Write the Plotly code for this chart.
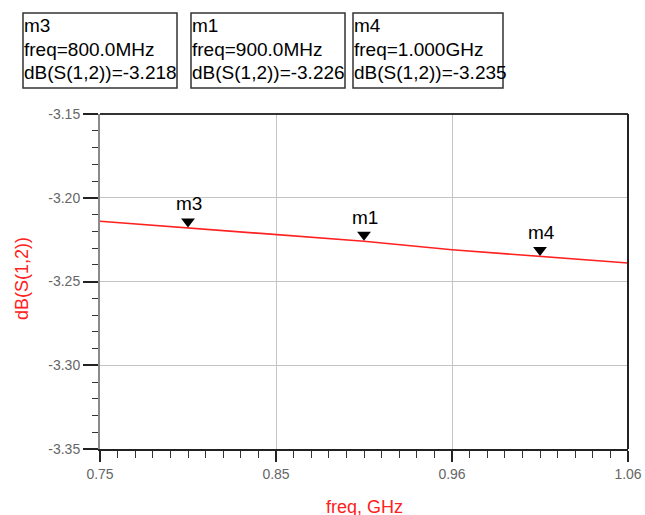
import plotly.graph_objects as go

# ---- data ----
freq_ghz = [0.75, 0.80, 0.85, 0.90, 0.95, 1.00, 1.05]
s12_db = [-3.214, -3.218, -3.222, -3.226, -3.231, -3.235, -3.239]

marker_names = ["m3", "m1", "m4"]
marker_freq = [0.80, 0.90, 1.00]
marker_db = [-3.218, -3.226, -3.235]
marker_freq_text = ["800.0MHz", "900.0MHz", "1.000GHz"]

x_tickvals = [0.75, 0.85, 0.95, 1.05]
x_ticktext = ["0.75", "0.85", "0.96", "1.06"]
y_tickvals = [-3.35, -3.30, -3.25, -3.20, -3.15]
y_ticktext = ["-3.35", "-3.30", "-3.25", "-3.20", "-3.15"]

# ---- layout geometry (page pixels) ----
W, H = 645, 515
L, R, T, B = 100, 628, 114, 449
PW, PH = R - L, B - T
YR = (-3.35, -3.15)


def px_x(px):
    return (px - L) / PW


def px_y(py):
    return (B - py) / PH


FONT = "Liberation Sans, Arial, sans-serif"

fig = go.Figure()
fig.add_trace(go.Scatter(x=freq_ghz, y=s12_db, mode="lines",
                         line=dict(color="#ff2020", width=1.6),
                         hoverinfo="skip", showlegend=False))

# triangle markers sitting on the line (tip at the value)
dy = 6.5 * (YR[1] - YR[0]) / PH
fig.add_trace(go.Scatter(x=marker_freq, y=[v + dy for v in marker_db], mode="markers",
                         marker=dict(symbol="triangle-down", size=12, color="black",
                                     line=dict(width=0)),
                         hoverinfo="skip", showlegend=False))

annotations = []
for n, f, v in zip(marker_names, marker_freq, marker_db):
    annotations.append(dict(x=f, y=v, xref="x", yref="y", text=n, showarrow=False,
                            yshift=24, xshift=1, font=dict(family=FONT, size=19, color="black")))

# marker readout boxes
box_px = [(23, 177), (191, 345), (353, 503)]
box_top, box_bot = 13, 88
shapes = []
for (x0, x1), n, ft, v in zip(box_px, marker_names, marker_freq_text, marker_db):
    shapes.append(dict(type="rect", xref="paper", yref="paper",
                       x0=px_x(x0), x1=px_x(x1), y0=px_y(box_bot), y1=px_y(box_top),
                       line=dict(color="#333", width=1.5), fillcolor="white"))
    lines = [n, "freq=" + ft, "dB(S(1,2))=%.3f" % v]
    for i, t in enumerate(lines):
        annotations.append(dict(x=px_x(x0 - 1), y=px_y(25 + 24 * i), xref="paper", yref="paper",
                                xanchor="left", yanchor="middle", text=t, showarrow=False,
                                font=dict(family=FONT, size=19, color="black")))

# plot frame: top and right borders
shapes.append(dict(type="line", xref="paper", yref="paper", x0=0, x1=1, y0=1, y1=1,
                   line=dict(color="#333", width=2)))
shapes.append(dict(type="line", xref="paper", yref="paper", x0=1, x1=1, y0=0, y1=1,
                   line=dict(color="#222", width=2)))

# axis titles
annotations.append(dict(x=0.5, y=px_y(507), xref="paper", yref="paper", text="freq, GHz",
                        showarrow=False, xanchor="center", yanchor="middle",
                        font=dict(family=FONT, size=18, color="#ff2020")))
annotations.append(dict(x=px_x(22), y=px_y(279), xref="paper", yref="paper", text="dB(S(1,2))",
                        showarrow=False, textangle=-90, xanchor="center", yanchor="middle",
                        font=dict(family=FONT, size=18, color="#ff2020")))

fig.update_layout(
    width=W, height=H, autosize=False,
    margin=dict(l=L, r=W - R, t=T, b=H - B, pad=0, autoexpand=False),
    paper_bgcolor="white", plot_bgcolor="white",
    showlegend=False,
    shapes=shapes, annotations=annotations,
    xaxis=dict(range=[0.75, 1.05], tickvals=x_tickvals, ticktext=x_ticktext, automargin=False,
               showgrid=True, gridcolor="#c4c4c4", gridwidth=1.3, zeroline=False,
               showline=True, linecolor="#222", linewidth=2,
               ticks="outside", ticklen=11, tickwidth=1.5, tickcolor="#222",
               minor=dict(ticks="outside", ticklen=7, tickwidth=1.3, tickcolor="#333",
                          dtick=0.01, tick0=0.75, showgrid=False),
               tickfont=dict(family=FONT, size=14, color="#666")),
    yaxis=dict(range=list(YR), tickvals=y_tickvals, ticktext=y_ticktext, automargin=False,
               showgrid=True, gridcolor="#c4c4c4", gridwidth=1.3, zeroline=False,
               showline=True, linecolor="#8a8a8a", linewidth=2,
               ticks="outside", ticklen=15, tickwidth=1.5, tickcolor="#222",
               minor=dict(ticks="outside", ticklen=6, tickwidth=1.3, tickcolor="#333",
                          dtick=0.01, tick0=-3.35, showgrid=False),
               tickfont=dict(family=FONT, size=14, color="#666")),
)

post = ("document.documentElement.style.overflow='hidden';"
        "document.body.style.margin='0';document.body.style.overflow='hidden';")

fig.write_html("out.html", config={"responsive": False, "displayModeBar": False},
               post_script=post)
